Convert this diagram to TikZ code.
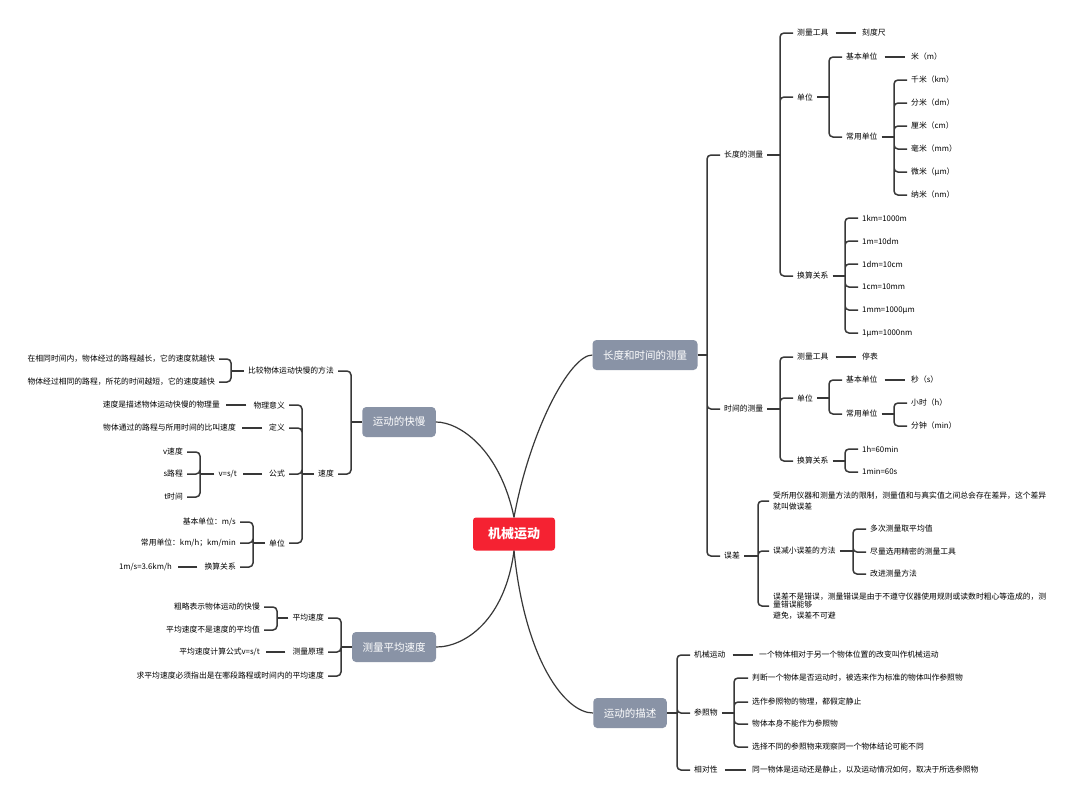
\documentclass[tikz,border=0pt]{standalone}
\usepackage{fontspec}
\setmainfont{Noto Sans CJK SC}
\usetikzlibrary{positioning}
\definecolor{rootred}{RGB}{245,34,50}
\definecolor{topicgray}{RGB}{137,147,166}
\definecolor{linegray}{RGB}{56,56,56}

\begin{document}
\begin{tikzpicture}[x=1pt,y=-1pt,
  root/.style={fill=rootred,text=white,rounded corners=3pt,minimum width=82pt,minimum height=33pt,font=\fontsize{13}{15}\selectfont\bfseries},
  topic/.style={fill=topicgray,text=white,rounded corners=4pt,inner xsep=10.5pt,minimum height=30pt,font=\fontsize{10.5}{12}\selectfont},
  leaf/.style={inner xsep=4pt,inner ysep=1pt,font=\fontsize{7.8}{10}\selectfont},
  rt/.style={leaf,anchor=west},
  lf/.style={leaf,anchor=east},
  link/.style={draw=linegray,line width=1.5pt,rounded corners=4pt},
  plain/.style={draw=linegray,line width=1.5pt,shorten <=3pt,shorten >=2pt},
  curve/.style={draw=linegray,line width=1.2pt}]
\fill[white] (0,0) rectangle (1080,804);
\useasboundingbox (0,0) rectangle (1080,804);

% centre and main topics
\node[root] (jx) at (514,534) {机械运动};
\node[topic] (cl) at (645,355) {长度和时间的测量};
\node[topic] (kuai) at (399,422) {运动的快慢};
\node[topic] (pjsd) at (394,647) {测量平均速度};
\node[topic] (ms) at (630,713) {运动的描述};

\draw[curve] (jx.north) .. controls (530,430) and (570,355) .. (cl.west);
\draw[curve] (jx.north) .. controls (500,450) and (460,422) .. (kuai.east);
\draw[curve] (jx.south) .. controls (505,620) and (465,647) .. (pjsd.east);
\draw[curve] (jx.south) .. controls (525,660) and (565,713) .. (ms.west);

% length and time
\node[rt] (cd) at (720,155) {长度的测量};
\node[rt] (sj) at (720,409) {时间的测量};
\node[rt] (wc) at (720,556) {误差};
\coordinate (j-cl) at (707,355);
\draw[link] (cl.east) -- (j-cl);
\draw[link] (j-cl) |- (cd.west) (j-cl) |- (sj.west) (j-cl) |- (wc.west);

\node[rt] (cdgj) at (793,33) {测量工具};
\node[rt] (kdc) at (858,33) {刻度尺};
\node[rt] (cddw) at (793,97) {单位};
\node[rt] (cdhs) at (793,276) {换算关系};
\coordinate (j-cd) at (780,155);
\draw[link] (cd.east) -- (j-cd);
\draw[link] (j-cd) |- (cdgj.west) (j-cd) |- (cddw.west) (j-cd) |- (cdhs.west);
\draw[plain] (cdgj.east) -- (kdc.west);

\node[rt] (cdjb) at (842,57) {基本单位};
\node[rt] (mi) at (907,57) {米（m）};
\node[rt] (cdcy) at (842,137) {常用单位};
\coordinate (j-cddw) at (829,97);
\draw[link] (cddw.east) -- (j-cddw);
\draw[link] (j-cddw) |- (cdjb.west) (j-cddw) |- (cdcy.west);
\draw[plain] (cdjb.east) -- (mi.west);

\node[rt] (u-km) at (907,80) {千米（km）};
\node[rt] (u-dm) at (907,103) {分米（dm）};
\node[rt] (u-cm) at (907,126) {厘米（cm）};
\node[rt] (u-mm) at (907,149) {毫米（mm）};
\node[rt] (u-um) at (907,172) {微米（μm）};
\node[rt] (u-nm) at (907,195) {纳米（nm）};
\coordinate (j-cdcy) at (894,137);
\draw[link] (cdcy.east) -- (j-cdcy);
\draw[link] (j-cdcy) |- (u-km.west) (j-cdcy) |- (u-dm.west) (j-cdcy) |- (u-cm.west)
  (j-cdcy) |- (u-mm.west) (j-cdcy) |- (u-um.west) (j-cdcy) |- (u-nm.west);

\node[rt] (hs1) at (858,218) {1km=1000m};
\node[rt] (hs2) at (858,241) {1m=10dm};
\node[rt] (hs3) at (858,264) {1dm=10cm};
\node[rt] (hs4) at (858,287) {1cm=10mm};
\node[rt] (hs5) at (858,310) {1mm=1000μm};
\node[rt] (hs6) at (858,333) {1μm=1000nm};
\coordinate (j-cdhs) at (845,276);
\draw[link] (cdhs.east) -- (j-cdhs);
\draw[link] (j-cdhs) |- (hs1.west) (j-cdhs) |- (hs2.west) (j-cdhs) |- (hs3.west)
  (j-cdhs) |- (hs4.west) (j-cdhs) |- (hs5.west) (j-cdhs) |- (hs6.west);

\node[rt] (sjgj) at (793,357) {测量工具};
\node[rt] (tb) at (858,357) {停表};
\node[rt] (sjdw) at (793,398) {单位};
\node[rt] (sjhs) at (793,461) {换算关系};
\coordinate (j-sj) at (780,409);
\draw[link] (sj.east) -- (j-sj);
\draw[link] (j-sj) |- (sjgj.west) (j-sj) |- (sjdw.west) (j-sj) |- (sjhs.west);
\draw[plain] (sjgj.east) -- (tb.west);

\node[rt] (sjjb) at (842,380) {基本单位};
\node[rt] (miao) at (907,380) {秒（s）};
\node[rt] (sjcy) at (842,414) {常用单位};
\coordinate (j-sjdw) at (829,398);
\draw[link] (sjdw.east) -- (j-sjdw);
\draw[link] (j-sjdw) |- (sjjb.west) (j-sjdw) |- (sjcy.west);
\draw[plain] (sjjb.east) -- (miao.west);

\node[rt] (xs) at (907,403) {小时（h）};
\node[rt] (fz) at (907,426) {分钟（min）};
\coordinate (j-sjcy) at (894,414);
\draw[link] (sjcy.east) -- (j-sjcy);
\draw[link] (j-sjcy) |- (xs.west) (j-sjcy) |- (fz.west);

\node[rt] (hs7) at (858,449) {1h=60min};
\node[rt] (hs8) at (858,472) {1min=60s};
\coordinate (j-sjhs) at (845,461);
\draw[link] (sjhs.east) -- (j-sjhs);
\draw[link] (j-sjhs) |- (hs7.west) (j-sjhs) |- (hs8.west);

% error
\node[rt,align=left,font=\fontsize{7.8}{11}\selectfont] (wc1) at (769,501) {受所用仪器和测量方法的限制，测量值和与真实值之间总会存在差异，这个差异\\就叫做误差};
\node[rt] (wc2) at (769,551) {误减小误差的方法};
\node[rt,align=left,font=\fontsize{7.8}{8.5}\selectfont] (wc3) at (769,606) {误差不是错误，测量错误是由于不遵守仪器使用规则或读数时粗心等造成的，测\\量错误能够\\[2.5pt]避免，误差不可避};
\coordinate (j-wc) at (758,556);
\draw[link] (wc.east) -- (j-wc);
\draw[link] (j-wc) |- (wc1.west) (j-wc) |- (wc2.west) (j-wc) |- (wc3.west);

\node[rt] (wc21) at (866,529) {多次测量取平均值};
\node[rt] (wc22) at (866,552) {尽量选用精密的测量工具};
\node[rt] (wc23) at (866,574) {改进测量方法};
\coordinate (j-wc2) at (853,551);
\draw[link] (wc2.east) -- (j-wc2);
\draw[link] (j-wc2) |- (wc21.west) (j-wc2) |- (wc22.west) (j-wc2) |- (wc23.west);

% description of motion
\node[rt] (msjx) at (690,655) {机械运动};
\node[rt] (msjx1) at (755,655) {一个物体相对于另一个物体位置的改变叫作机械运动};
\node[rt] (mscz) at (690,713) {参照物};
\node[rt] (msxd) at (690,770) {相对性};
\node[rt] (msxd1) at (748,770) {同一物体是运动还是静止，以及运动情况如何，取决于所选参照物};
\coordinate (j-ms) at (677,713);
\draw[link] (ms.east) -- (j-ms);
\draw[link] (j-ms) |- (msjx.west) (j-ms) |- (mscz.west) (j-ms) |- (msxd.west);
\draw[plain] (msjx.east) -- (msjx1.west);
\draw[plain] (msxd.east) -- (msxd1.west);

\node[rt] (mscz1) at (748,678) {判断一个物体是否运动时，被选来作为标准的物体叫作参照物};
\node[rt] (mscz2) at (748,702) {选作参照物的物理，都假定静止};
\node[rt] (mscz3) at (748,724) {物体本身不能作为参照物};
\node[rt] (mscz4) at (748,747) {选择不同的参照物来观察同一个物体结论可能不同};
\coordinate (j-mscz) at (734,713);
\draw[link] (mscz.east) -- (j-mscz);
\draw[link] (j-mscz) |- (mscz1.west) (j-mscz) |- (mscz2.west) (j-mscz) |- (mscz3.west) (j-mscz) |- (mscz4.west);

% speed
\node[lf] (bj) at (338,371) {比较物体运动快慢的方法};
\node[lf] (sd) at (338,474) {速度};
\coordinate (j-kuai) at (351,422);
\draw[link] (kuai.west) -- (j-kuai);
\draw[link] (j-kuai) |- (bj.east) (j-kuai) |- (sd.east);

\node[lf] (bj1) at (219,359) {在相同时间内，物体经过的路程越长，它的速度就越快};
\node[lf] (bj2) at (219,382) {物体经过相同的路程，所花的时间越短，它的速度越快};
\coordinate (j-bj) at (231,371);
\draw[link] (bj.west) -- (j-bj);
\draw[link] (j-bj) |- (bj1.east) (j-bj) |- (bj2.east);

\node[lf] (wlyy) at (289,405) {物理意义};
\node[lf] (wlyy1) at (224,405) {速度是描述物体运动快慢的物理量};
\node[lf] (dy) at (289,428) {定义};
\node[lf] (dy1) at (240,428) {物体通过的路程与所用时间的比叫速度};
\node[lf] (gs) at (289,474) {公式};
\node[lf] (gs1) at (241,474) {v=s/t};
\node[lf] (dw) at (289,543) {单位};
\coordinate (j-sd) at (302,474);
\draw[link] (sd.west) -- (j-sd);
\draw[link] (j-sd) |- (wlyy.east) (j-sd) |- (dy.east) (j-sd) |- (gs.east) (j-sd) |- (dw.east);
\draw[plain] (wlyy.west) -- (wlyy1.east);
\draw[plain] (dy.west) -- (dy1.east);
\draw[plain] (gs.west) -- (gs1.east);

\node[lf] (gsv) at (187,452) {v速度};
\node[lf] (gss) at (187,474) {s路程};
\node[lf] (gst) at (187,497) {t时间};
\coordinate (j-gs1) at (200,474);
\draw[link] (gs1.west) -- (j-gs1);
\draw[link] (j-gs1) |- (gsv.east) (j-gs1) |- (gss.east) (j-gs1) |- (gst.east);

\node[lf] (dw1) at (240,522) {基本单位：m/s};
\node[lf] (dw2) at (240,543) {常用单位：km/h；km/min};
\node[lf] (dw3) at (240,567) {换算关系};
\node[lf] (dw31) at (176,567) {1m/s=3.6km/h};
\coordinate (j-dw) at (253,543);
\draw[link] (dw.west) -- (j-dw);
\draw[link] (j-dw) |- (dw1.east) (j-dw) |- (dw2.east) (j-dw) |- (dw3.east);
\draw[plain] (dw3.west) -- (dw31.east);

% average speed
\node[lf] (pj) at (328,618) {平均速度};
\node[lf] (yl) at (328,652) {测量原理};
\node[lf] (qs) at (328,676) {求平均速度必须指出是在哪段路程或时间内的平均速度};
\coordinate (j-pjsd) at (341,647);
\draw[link] (pjsd.west) -- (j-pjsd);
\draw[link] (j-pjsd) |- (pj.east) (j-pjsd) |- (yl.east) (j-pjsd) |- (qs.east);

\node[lf] (pj1) at (264,607) {粗略表示物体运动的快慢};
\node[lf] (pj2) at (264,630) {平均速度不是速度的平均值};
\node[lf] (yl1) at (264,652) {平均速度计算公式v=s/t};
\coordinate (j-pj) at (277,618);
\draw[link] (pj.west) -- (j-pj);
\draw[link] (j-pj) |- (pj1.east) (j-pj) |- (pj2.east);
\draw[plain] (yl.west) -- (yl1.east);
\end{tikzpicture}
\end{document}
